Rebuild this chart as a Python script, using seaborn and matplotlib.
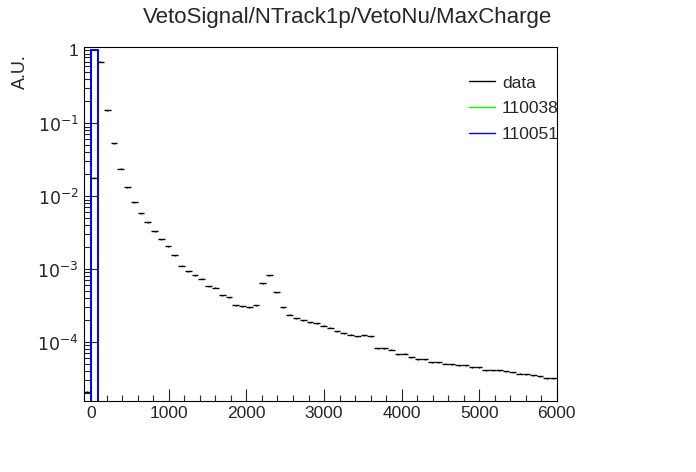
import numpy as np
import pandas as pd
import seaborn as sns
import matplotlib
matplotlib.use("Agg")
import matplotlib.pyplot as plt
from matplotlib.ticker import FixedLocator, FuncFormatter, LogLocator, MultipleLocator

sns.set_style("white")
plt.rcParams['font.family'] = ['Liberation Sans', 'DejaVu Sans']

# data histogram: 70 bins from -100 to 6000
x_lo, x_hi, n_bins = -100, 6000, 70
data_vals = [2.1e-5, 0.018, 0.7, 0.15, 0.0527, 0.0239, 0.0133, 0.0082, 0.0058, 0.00436,
             0.00328, 0.00255, 0.00205, 0.00154, 0.00112, 0.00093, 0.00082, 0.00074, 0.00058, 0.00056,
             0.000436, 0.00041, 0.000318, 0.000308, 0.000299, 0.000318, 0.00064, 0.00082, 0.00048, 0.000299,
             0.000239, 0.000211, 0.000198, 0.000188, 0.000180, 0.000167, 0.000157, 0.000140, 0.000132, 0.000126,
             0.000120, 0.000124, 0.000120, 8.2e-5, 8.2e-5, 7.9e-5, 6.8e-5, 6.9e-5, 6.2e-5, 5.8e-5,
             5.8e-5, 5.3e-5, 5.3e-5, 5.05e-5, 4.95e-5, 4.8e-5, 4.8e-5, 4.5e-5, 4.5e-5, 4.13e-5,
             4.13e-5, 4.1e-5, 3.97e-5, 3.88e-5, 3.68e-5, 3.6e-5, 3.5e-5, 3.39e-5, 3.18e-5, 3.18e-5]
# MC samples: everything in the first bin
mc_edges = [0, 85]
mc_110038 = [1.0]
mc_110051 = [1.0]

edges = np.linspace(x_lo, x_hi, n_bins + 1)
centers = (edges[:-1] + edges[1:]) / 2
width = edges[1] - edges[0]
df = pd.DataFrame({'x': centers, 'y': data_vals})

fig, ax = plt.subplots(figsize=(6.96, 4.72), dpi=100)
fig.subplots_adjust(left=0.12, right=0.80, bottom=0.15, top=0.90)

ax.set_yscale('log')
mc_x = [(mc_edges[0] + mc_edges[1]) / 2]
sns.histplot(x=mc_x, weights=mc_110038, bins=mc_edges, element='bars', fill=False,
             color='#00ff00', linewidth=0.8, ax=ax, zorder=1)
sns.histplot(x=mc_x, weights=mc_110051, bins=mc_edges, element='bars', fill=False,
             color='blue', linewidth=1.4, ax=ax, zorder=2)
ax.errorbar(df['x'], df['y'], xerr=width / 2, yerr=df['y'] * 0.015, fmt='none',
            ecolor='black', elinewidth=1, capsize=0, zorder=3)

ax.set_xlim(x_lo, x_hi)
ax.set_ylim(1.55e-5, 1.1)

ax.xaxis.set_major_locator(MultipleLocator(1000))
ax.xaxis.set_minor_locator(MultipleLocator(200))
ax.yaxis.set_major_locator(FixedLocator([1e-4, 1e-3, 1e-2, 1e-1, 1]))
ax.yaxis.set_minor_locator(LogLocator(base=10, subs=np.arange(2, 10)))
ax.yaxis.set_minor_formatter(FuncFormatter(lambda v, p: ''))
ax.yaxis.set_major_formatter(FuncFormatter(
    lambda v, p: '1' if abs(v - 1) < 1e-9 else r'$10^{%d}$' % round(np.log10(v))))
ax.tick_params(which='both', direction='in', labelsize=12.5, top=False, right=False, left=True, bottom=True)
ax.tick_params(which='major', length=9, width=0.8)
ax.tick_params(which='minor', length=4.5, width=0.8)
for s in ax.spines.values():
    s.set_color('black')
    s.set_linewidth(0.8)
ax.set_xlabel('')
ax.set_ylabel('A.U.', fontsize=13)
ax.yaxis.set_label_coords(-0.115, 0.93)
fig.suptitle('VetoSignal/NTrack1p/VetoNu/MaxCharge', fontsize=16, x=0.5, y=0.985)

handles = [plt.Line2D([], [], color='black', lw=1),
           plt.Line2D([], [], color='#00ff00', lw=1),
           plt.Line2D([], [], color='blue', lw=1)]
ax.legend(handles, ['data', '110038', '110051'], loc='upper left', bbox_to_anchor=(0.80, 0.94),
          frameon=False, fontsize=12.5, handlelength=1.5, handletextpad=0.4, labelspacing=0.6,
          borderaxespad=0)

fig.savefig('out.png', dpi=100)
